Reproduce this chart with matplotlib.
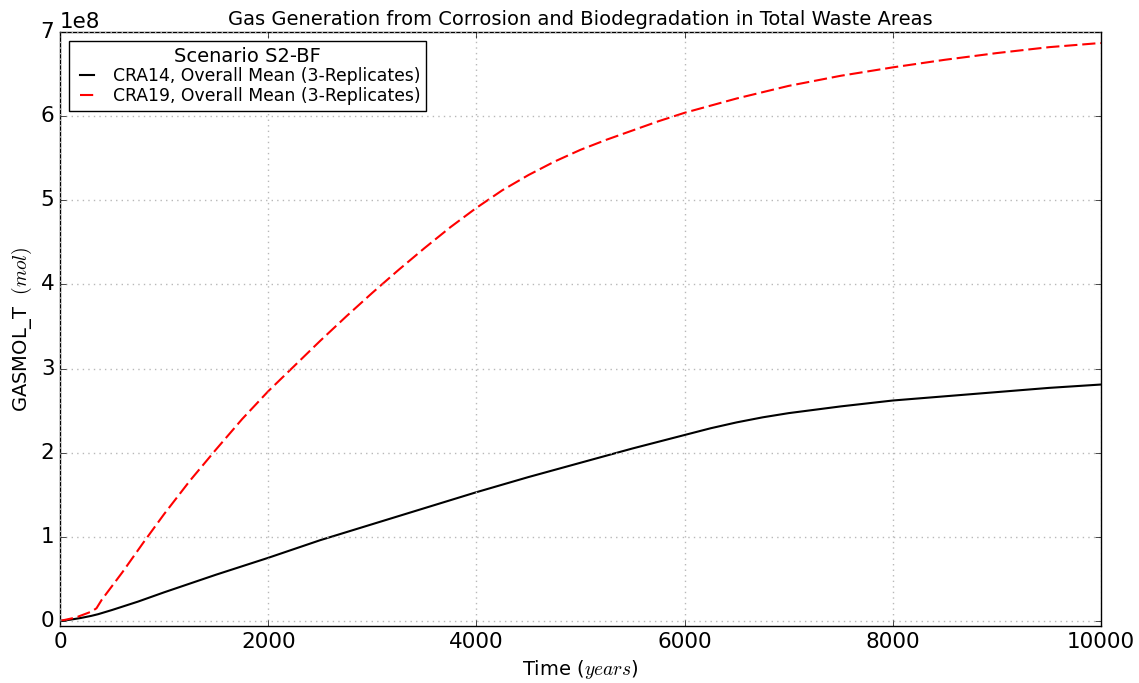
import matplotlib
matplotlib.use("Agg")
import matplotlib.pyplot as plt

plt.style.use("classic")
plt.rcParams["font.family"] = ["DejaVu Sans"]
plt.rcParams["mathtext.fontset"] = "cm"

# Time (years)
time_cra14 = [0, 100, 200, 300, 366, 500, 750, 1000, 1500, 2000, 2500, 3000,
              3500, 4000, 4500, 5000, 5500, 6000, 6250, 6500, 6750, 7000,
              7500, 8000, 8500, 9000, 9500, 10000]
# GASMOL_T (mol)
gas_cra14 = [0.0, 0.015e8, 0.035e8, 0.06e8, 0.08e8, 0.13e8, 0.23e8, 0.34e8,
             0.55e8, 0.75e8, 0.96e8, 1.15e8, 1.34e8, 1.53e8, 1.71e8, 1.88e8,
             2.05e8, 2.21e8, 2.29e8, 2.36e8, 2.42e8, 2.47e8, 2.55e8, 2.62e8,
             2.67e8, 2.72e8, 2.77e8, 2.81e8]

time_cra19 = [0, 150, 300, 350, 400, 600, 800, 1000, 1250, 1500, 1750, 2000,
              2250, 2500, 2750, 3000, 3250, 3500, 3750, 4000, 4250, 4500,
              4750, 5000, 5250, 5500, 5750, 6000, 6500, 7000, 7500, 8000,
              8500, 9000, 9500, 10000]
gas_cra19 = [0.0, 0.04e8, 0.11e8, 0.15e8, 0.25e8, 0.58e8, 0.93e8, 1.27e8,
             1.67e8, 2.04e8, 2.40e8, 2.73e8, 3.03e8, 3.33e8, 3.62e8, 3.90e8,
             4.17e8, 4.43e8, 4.68e8, 4.91e8, 5.12e8, 5.30e8, 5.46e8, 5.60e8,
             5.72e8, 5.83e8, 5.94e8, 6.04e8, 6.21e8, 6.36e8, 6.48e8, 6.58e8,
             6.67e8, 6.75e8, 6.82e8, 6.87e8]

label_cra14 = "CRA14, Overall Mean (3-Replicates)"
label_cra19 = "CRA19, Overall Mean (3-Replicates)"

fig = plt.figure(figsize=(11.39, 6.83), dpi=100, facecolor="white")
ax = fig.add_axes([0.0527, 0.0835, 0.9139, 0.8696])

ax.plot(time_cra14, gas_cra14, color="black", linestyle="-", linewidth=1.5,
        label=label_cra14)
ax.plot(time_cra19, gas_cra19, color="red", linestyle="--", linewidth=1.5,
        dashes=(9.5, 3.5), label=label_cra19)

ax.set_xlim(0, 10000)
ax.set_ylim(-0.06e8, 7e8)
ax.set_xticks([0, 2000, 4000, 6000, 8000, 10000])
ax.set_yticks([0, 1e8, 2e8, 3e8, 4e8, 5e8, 6e8, 7e8])
ax.tick_params(labelsize=15.5)
ax.yaxis.get_offset_text().set_fontsize(15.5)

ax.grid(True, color="#b8b8b8", linestyle=":", linewidth=1.0)

ax.set_title("Gas Generation from Corrosion and Biodegradation in Total Waste Areas",
             fontsize=14)
ax.set_xlabel("Time ($years$)", fontsize=14)
ax.set_ylabel("GASMOL_T  $(mol)$", fontsize=14)

leg = ax.legend(loc="upper left", title="Scenario S2-BF", fontsize=12.4,
                handlelength=1.4, labelspacing=0.1, borderaxespad=0.5,
                borderpad=0.35)
leg.get_title().set_fontsize(14)
leg.get_frame().set_linewidth(1.0)

fig.savefig("out.png", dpi=100, facecolor="white")
